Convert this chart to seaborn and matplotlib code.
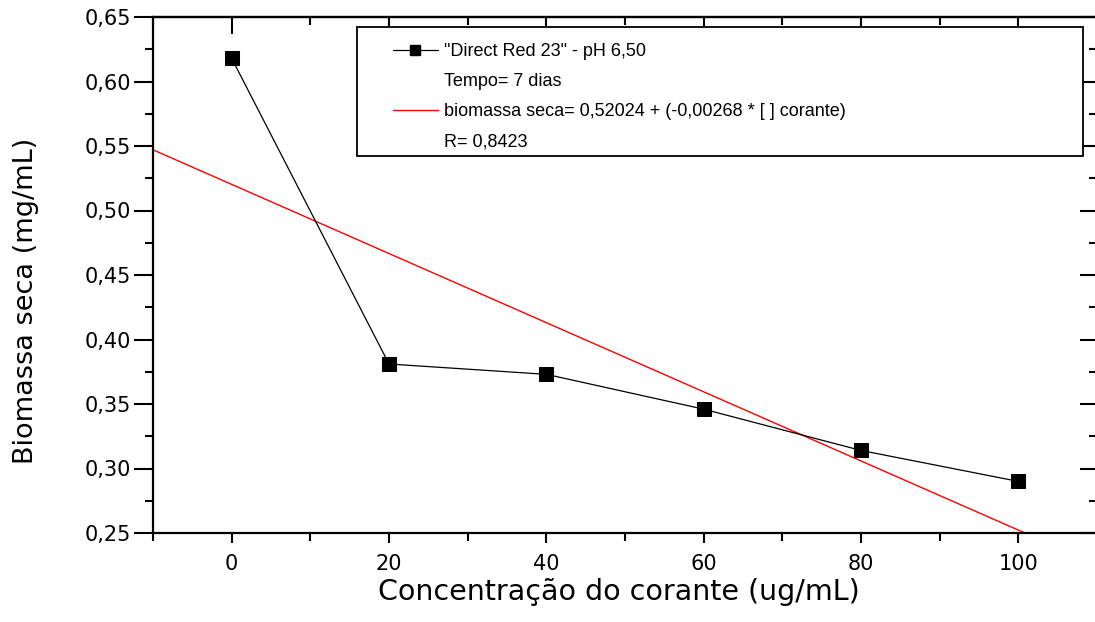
import numpy as np
import pandas as pd
import seaborn as sns
import matplotlib.pyplot as plt
from matplotlib.lines import Line2D
from matplotlib.patches import Rectangle
from matplotlib.ticker import MultipleLocator, FixedLocator

# data
concentration = [0, 20, 40, 60, 80, 100]
biomass = [0.618, 0.381, 0.373, 0.346, 0.314, 0.290]

# linear fit reported in the legend
fit_intercept = 0.52024
fit_slope = -0.00268
fit_r = "0,8423"

x_ticks = [0, 20, 40, 60, 80, 100]
y_ticks = [0.25, 0.30, 0.35, 0.40, 0.45, 0.50, 0.55, 0.60, 0.65]
y_tick_labels = ["0,25", "0,30", "0,35", "0,40", "0,45", "0,50", "0,55", "0,60", "0,65"]

series_label = '"Direct Red 23" - pH 6,50'
time_label = "Tempo= 7 dias"
fit_label = "biomassa seca= 0,52024 + (-0,00268 * [ ] corante)"
r_label = "R= " + fit_r

df = pd.DataFrame({"conc": concentration, "biomassa": biomass})
fit_x = np.array([-10, 110])
fit_df = pd.DataFrame({"conc": fit_x, "biomassa": fit_intercept + fit_slope * fit_x})

sns.set_style("ticks", {"axes.edgecolor": "black", "xtick.color": "black",
                        "ytick.color": "black", "text.color": "black",
                        "axes.labelcolor": "black"})
plt.rcParams["font.family"] = ["DejaVu Sans"]

fig = plt.figure(figsize=(10.95, 6.22), dpi=100)
ax = fig.add_axes([153 / 1095, 89 / 622, (1097 - 153) / 1095, (533 - 17) / 622])

sns.lineplot(data=fit_df, x="conc", y="biomassa", color="red", linewidth=1.0, ax=ax)
sns.lineplot(data=df, x="conc", y="biomassa", color="black", linewidth=0.9,
             marker="s", markersize=10, markeredgecolor="black", ax=ax)

ax.set_xlim(-10, 110)
ax.set_ylim(0.25, 0.65)
ax.xaxis.set_major_locator(FixedLocator(x_ticks))
ax.xaxis.set_minor_locator(MultipleLocator(10))
ax.set_yticks(y_ticks)
ax.set_yticklabels(y_tick_labels)
ax.yaxis.set_minor_locator(MultipleLocator(0.025))

for s in ax.spines.values():
    s.set_linewidth(1.6)
    s.set_visible(True)

ax.tick_params(axis="x", which="major", direction="out", length=7, width=1.5,
               labelsize=15, pad=8)
ax.tick_params(axis="x", which="minor", direction="out", length=6, width=1.5)
ax.tick_params(axis="y", which="major", direction="out", length=14, width=1.5,
               labelsize=15, pad=2)
ax.tick_params(axis="y", which="minor", direction="out", length=6, width=1.5)

# inward ticks on top and right
top = ax.secondary_xaxis("top")
top.xaxis.set_major_locator(FixedLocator(x_ticks))
top.xaxis.set_minor_locator(MultipleLocator(10))
top.tick_params(which="major", direction="in", length=12, width=1.5, labeltop=False)
top.tick_params(which="minor", direction="in", length=6, width=1.5)
top.spines["top"].set_linewidth(1.6)

right = ax.secondary_yaxis("right")
right.set_yticks(y_ticks)
right.yaxis.set_minor_locator(MultipleLocator(0.025))
right.tick_params(which="major", direction="in", length=12, width=1.5, labelright=False)
right.tick_params(which="minor", direction="in", length=6, width=1.5)

ax.set_xlabel("Concentração do corante (ug/mL)", fontsize=20.5)
ax.set_ylabel("Biomassa seca (mg/mL)", fontsize=19.5)
ax.xaxis.set_label_coords(0.493, -0.087)
ax.yaxis.set_label_coords(-0.121, 0.45)

# legend box
ax.add_patch(Rectangle((0.2161, 0.7306), 0.769, 0.25, transform=ax.transAxes,
                       facecolor="white", edgecolor="black", linewidth=1.3,
                       zorder=4, clip_on=False))

handles = [
    Line2D([], [], color="black", linewidth=0.9, marker="s", markersize=7),
    Line2D([], [], linestyle="none"),
    Line2D([], [], color="red", linewidth=1.0),
    Line2D([], [], linestyle="none"),
]
labels = [series_label, time_label, fit_label, r_label]
leg = ax.legend(handles, labels, loc="upper left", bbox_to_anchor=(0.254, 0.949),
                prop={"family": ["Liberation Sans"], "size": 13},
                frameon=False, handlelength=2.5, handletextpad=0.33,
                labelspacing=0.72, borderpad=0, borderaxespad=0)
leg.set_zorder(5)

fig.savefig("out.png", dpi=100)
